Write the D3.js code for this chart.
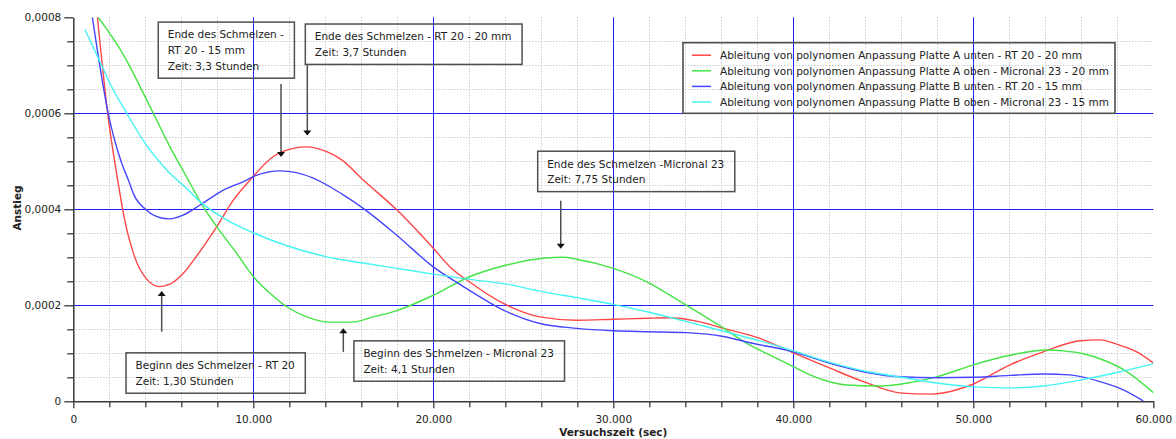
<!DOCTYPE html>
<html>
<head>
<meta charset="utf-8">
<script src="https://cdn.jsdelivr.net/npm/d3@7"></script>
<style>
  html, body { margin: 0; padding: 0; background: #fff; }
  svg { display: block; }
  text { font-family: "DejaVu Sans", sans-serif; fill: #222; }
</style>
</head>
<body>
<svg id="chart" width="1176" height="439"></svg>
<script>
// Derivative of the polynomial fits, [time in s, slope]
const seriesNames = [
  "Ableitung von polynomen Anpassung Platte A unten - RT 20 - 20 mm",
  "Ableitung von polynomen Anpassung Platte A oben - Micronal 23 - 20 mm",
  "Ableitung von polynomen Anpassung Platte B unten - RT 20 - 15 mm",
  "Ableitung von polynomen Anpassung Platte B oben - Micronal 23 - 15 mm"
];
const seriesColors = ["#ff4545", "#44e444", "#4646ff", "#44f4f4"];

const plateAUnten = [
  [1340, 8.0e-4], [1910, 6.0e-4], [2560, 4.40e-4], [2780, 3.92e-4], [3370, 3.05e-4],
  [4040, 2.56e-4], [4780, 2.39e-4], [5370, 2.44e-4], [6020, 2.63e-4], [6820, 3.01e-4],
  [7970, 3.64e-4], [8890, 4.19e-4], [9820, 4.61e-4], [11110, 5.10e-4], [12220, 5.27e-4],
  [12970, 5.30e-4], [14080, 5.20e-4], [14910, 5.03e-4], [16110, 4.61e-4], [17970, 3.99e-4],
  [20000, 3.19e-4], [20930, 2.80e-4], [22040, 2.48e-4], [23890, 2.04e-4], [25930, 1.76e-4],
  [27970, 1.69e-4], [30000, 1.71e-4], [31860, 1.73e-4], [33150, 1.74e-4], [34630, 1.67e-4],
  [36110, 1.52e-4], [38150, 1.31e-4], [40000, 1.01e-4], [42040, 0.69e-4], [43890, 0.41e-4],
  [46020, 0.17e-4], [47690, 0.15e-4], [49080, 0.24e-4], [50000, 0.36e-4], [52040, 0.76e-4],
  [53890, 1.03e-4], [55930, 1.26e-4], [57040, 1.28e-4], [57970, 1.19e-4], [59080, 1.03e-4],
  [60000, 0.80e-4]
];
const plateAOben = [
  [1390, 8.0e-4], [2690, 7.28e-4], [4260, 6.14e-4], [5370, 5.30e-4], [6390, 4.61e-4],
  [7220, 4.05e-4], [7970, 3.64e-4], [9080, 3.08e-4], [10000, 2.60e-4], [10930, 2.25e-4],
  [11860, 1.97e-4], [12970, 1.76e-4], [14260, 1.65e-4], [15470, 1.65e-4], [16670, 1.76e-4],
  [17970, 1.89e-4], [20000, 2.21e-4], [22040, 2.60e-4], [24080, 2.84e-4], [26110, 2.98e-4],
  [27220, 3.00e-4], [27970, 2.96e-4], [30000, 2.77e-4], [31860, 2.49e-4], [33890, 2.04e-4],
  [35930, 1.57e-4], [37590, 1.17e-4], [38710, 0.96e-4], [40000, 0.72e-4], [40930, 0.55e-4],
  [42970, 0.34e-4], [44820, 0.32e-4], [46480, 0.39e-4], [47970, 0.51e-4], [50000, 0.76e-4],
  [52040, 0.96e-4], [54080, 1.07e-4], [55000, 1.05e-4], [56110, 0.99e-4], [57220, 0.86e-4],
  [58520, 0.62e-4], [60000, 0.18e-4]
];
const plateBUnten = [
  [1060, 8.0e-4], [1940, 6.0e-4], [2690, 4.96e-4], [3060, 4.61e-4], [3370, 4.30e-4],
  [4040, 3.99e-4], [4780, 3.83e-4], [5370, 3.80e-4], [6110, 3.88e-4], [7040, 4.09e-4],
  [8150, 4.36e-4], [9630, 4.61e-4], [10000, 4.68e-4], [11500, 4.80e-4], [13330, 4.65e-4],
  [14260, 4.47e-4], [15000, 4.30e-4], [16110, 4.02e-4], [17970, 3.46e-4], [20000, 2.80e-4],
  [21670, 2.39e-4], [23890, 1.90e-4], [25930, 1.62e-4], [27970, 1.52e-4], [30000, 1.47e-4],
  [32040, 1.45e-4], [34080, 1.43e-4], [36110, 1.35e-4], [37590, 1.22e-4], [40000, 1.03e-4],
  [42040, 0.79e-4], [44080, 0.60e-4], [45930, 0.51e-4], [47970, 0.49e-4], [50000, 0.50e-4],
  [52040, 0.54e-4], [53890, 0.57e-4], [55370, 0.55e-4], [57040, 0.41e-4], [58330, 0.24e-4],
  [59440, 0.01e-4]
];
const plateBOben = [
  [650, 7.74e-4], [1480, 7.08e-4], [2040, 6.62e-4], [2970, 6.0e-4], [3980, 5.38e-4],
  [5190, 4.82e-4], [6390, 4.40e-4], [7040, 4.16e-4], [8520, 3.78e-4], [10000, 3.51e-4],
  [12040, 3.22e-4], [14080, 3.01e-4], [16110, 2.88e-4], [17970, 2.77e-4], [20000, 2.65e-4],
  [22040, 2.54e-4], [24080, 2.44e-4], [26110, 2.28e-4], [27970, 2.16e-4], [30000, 2.02e-4],
  [32040, 1.85e-4], [34080, 1.66e-4], [36110, 1.46e-4], [38150, 1.26e-4], [40000, 1.05e-4],
  [42040, 0.81e-4], [44080, 0.62e-4], [46020, 0.50e-4], [47970, 0.38e-4], [50000, 0.30e-4],
  [52040, 0.28e-4], [53890, 0.32e-4], [55930, 0.44e-4], [57970, 0.60e-4], [60000, 0.78e-4]
];
const seriesData = [plateAUnten, plateAOben, plateBUnten, plateBOben];

// Axis ticks
const xMajorTicks = [0, 10000, 20000, 30000, 40000, 50000, 60000];
const yMajorTicks = [0, 0.0002, 0.0004, 0.0006, 0.0008];
const xTitle = "Versuchszeit (sec)";
const yTitle = "Anstieg";

// Annotation texts, arrows [time, from, to] and box anchors [time, value] (top-left)
const noteTexts = [
  ["Ende des Schmelzen -", "RT 20 - 15 mm", "Zeit: 3,3 Stunden"],
  ["Ende des Schmelzen - RT 20 - 20 mm", "Zeit: 3,7 Stunden"],
  ["Ende des Schmelzen -Micronal 23", "Zeit: 7,75 Stunden"],
  ["Beginn des Schmelzen - RT 20", "Zeit: 1,30 Stunden"],
  ["Beginn des Schmelzen - Micronal 23", "Zeit: 4,1 Stunden"]
];
const noteArrows = [
  [11540, 6.61e-4, 5.09e-4],
  [13000, 7.03e-4, 5.54e-4],
  [27080, 4.18e-4, 3.18e-4],
  [4910, 1.45e-4, 2.30e-4],
  [15000, 1.03e-4, 1.52e-4]
];
const noteAnchors = [
  [4720, 7.90e-4],
  [12890, 7.86e-4],
  [25800, 5.21e-4],
  [2930, 1.01e-4],
  [15590, 1.26e-4]
];

const svg = d3.select("#chart");
const plotL = 73.3, plotR = 1153.3, plotT = 17.3, plotB = 401.3;
const x = d3.scaleLinear().domain([0, 60000]).range([plotL, plotR]);
const y = d3.scaleLinear().domain([0, 0.0008]).range([plotB, plotT]);

const de = d3.formatLocale({ decimal: ",", thousands: ".", grouping: [3], currency: ["", " €"] });
const fmtX = de.format(",.0f");
const fmtY = d => d === 0 ? "0" : de.format(".4f")(d);

// Minor grid (dotted)
const xMinor = d3.range(0, 60001, 2000).filter(v => v % 10000 !== 0);
const yMinor = d3.range(0, 17).map(i => i * 0.00005).filter((v, i) => i % 4 !== 0);
const grid = svg.append("g");
grid.selectAll("line.xm").data(xMinor).join("line")
  .attr("x1", d => Math.round(x(d)) + 0.5).attr("x2", d => Math.round(x(d)) + 0.5)
  .attr("y1", plotT).attr("y2", plotB)
  .attr("stroke", "#b4b4b4").attr("stroke-width", 1).attr("stroke-dasharray", "1,2");
grid.selectAll("line.ym").data(yMinor).join("line")
  .attr("y1", d => Math.round(y(d)) + 0.5).attr("y2", d => Math.round(y(d)) + 0.5)
  .attr("x1", plotL).attr("x2", plotR)
  .attr("stroke", "#b4b4b4").attr("stroke-width", 1).attr("stroke-dasharray", "1,2");

// Major grid (blue)
const majorBlue = "#2020ff";
grid.selectAll("line.xM").data(xMajorTicks.slice(1, -1)).join("line")
  .attr("x1", d => Math.round(x(d)) + 0.5).attr("x2", d => Math.round(x(d)) + 0.5)
  .attr("y1", plotT).attr("y2", plotB)
  .attr("stroke", majorBlue).attr("stroke-width", 1);
grid.selectAll("line.yM").data(yMajorTicks.slice(1, -1)).join("line")
  .attr("y1", d => Math.round(y(d)) + 0.5).attr("y2", d => Math.round(y(d)) + 0.5)
  .attr("x1", plotL).attr("x2", plotR)
  .attr("stroke", majorBlue).attr("stroke-width", 1);

// Clip for the curves
svg.append("clipPath").attr("id", "plotClip").append("rect")
  .attr("x", plotL).attr("y", plotT).attr("width", plotR - plotL).attr("height", plotB - plotT);

const line = d3.line().x(d => x(d[0])).y(d => y(d[1])).curve(d3.curveMonotoneX);
svg.append("g").attr("clip-path", "url(#plotClip)")
  .selectAll("path").data(seriesData).join("path")
  .attr("d", line).attr("fill", "none")
  .attr("stroke", (d, i) => seriesColors[i]).attr("stroke-width", 1.4)
  .attr("stroke-linejoin", "round");

// Axes
const axisColor = "#3a3a3a";
const styleAxis = g => {
  g.select(".domain").attr("stroke", axisColor).attr("stroke-width", 1.5);
  g.selectAll(".tick line").attr("stroke", axisColor).attr("stroke-width", 1.3);
  g.selectAll(".tick text").attr("font-family", "DejaVu Sans, sans-serif")
    .attr("font-size", 10.5).attr("fill", "#2a2a2a");
};
svg.append("g").attr("transform", `translate(0,${plotB})`)
  .call(d3.axisBottom(x).tickValues(xMinor).tickSize(6).tickFormat("").tickSizeOuter(0))
  .call(g => g.select(".domain").remove())
  .call(styleAxis);
svg.append("g").attr("transform", `translate(0,${plotB})`)
  .call(d3.axisBottom(x).tickValues(xMajorTicks).tickSize(7).tickPadding(7).tickFormat(fmtX).tickSizeOuter(0))
  .call(styleAxis);
svg.append("g").attr("transform", `translate(${plotL},0)`)
  .call(d3.axisLeft(y).tickValues(yMinor).tickSize(6).tickFormat("").tickSizeOuter(0))
  .call(g => g.select(".domain").remove())
  .call(styleAxis);
svg.append("g").attr("transform", `translate(${plotL},0)`)
  .call(d3.axisLeft(y).tickValues(yMajorTicks).tickSize(9).tickPadding(3).tickFormat(fmtY).tickSizeOuter(0))
  .call(styleAxis);

// Axis titles
svg.append("text").attr("x", x(30000)).attr("y", 436)
  .attr("text-anchor", "middle").attr("font-size", 10.5).attr("font-weight", "bold")
  .text(xTitle);
svg.append("text").attr("transform", `translate(21,208) rotate(-90)`)
  .attr("text-anchor", "middle").attr("font-size", 10.5).attr("font-weight", "bold")
  .text(yTitle);

// Annotations
const lineGap = 15.7;
const notes = svg.append("g");
noteTexts.forEach((lines, i) => {
  const [ax, ay] = noteAnchors[i];
  const bx = x(ax), by = y(ay);
  const g = notes.append("g");
  const box = g.append("rect");
  const txt = g.append("text").attr("font-size", 10.5);
  lines.forEach((s, k) => {
    txt.append("tspan").attr("x", bx + 9.5).attr("y", by + 16.3 + k * lineGap).text(s);
  });
  const w = d3.max(txt.selectAll("tspan").nodes(), n => n.getComputedTextLength());
  box.attr("x", bx).attr("y", by).attr("width", w + 20).attr("height", lines.length * lineGap + 9)
    .attr("fill", "none").attr("stroke", "#505050").attr("stroke-width", 1.5);

  const [t, v0, v1] = noteArrows[i];
  const axp = x(t), y0 = y(v0), y1 = y(v1);
  const dir = y1 > y0 ? 1 : -1;
  g.append("line").attr("x1", axp).attr("x2", axp).attr("y1", y0).attr("y2", y1 - dir * 4)
    .attr("stroke", "#505050").attr("stroke-width", 1.5);
  g.append("path")
    .attr("d", `M${axp - 4},${y1 - dir * 5}L${axp + 4},${y1 - dir * 5}L${axp},${y1}Z`)
    .attr("fill", "#111");
});

// Legend
const legend = svg.append("g");
const lgX = 683, lgY = 42.7, lgRow = 15.6;
legend.append("rect").attr("x", lgX).attr("y", lgY).attr("width", 432).attr("height", 70.6)
  .attr("fill", "none").attr("stroke", "#505050").attr("stroke-width", 1.6);
seriesNames.forEach((name, i) => {
  const cy = lgY + 12.5 + i * lgRow;
  legend.append("line").attr("x1", lgX + 9).attr("x2", lgX + 28).attr("y1", cy).attr("y2", cy)
    .attr("stroke", seriesColors[i]).attr("stroke-width", 1.5);
  legend.append("text").attr("x", lgX + 37).attr("y", cy + 4).attr("font-size", 10.5).text(name);
});
</script>
</body>
</html>
